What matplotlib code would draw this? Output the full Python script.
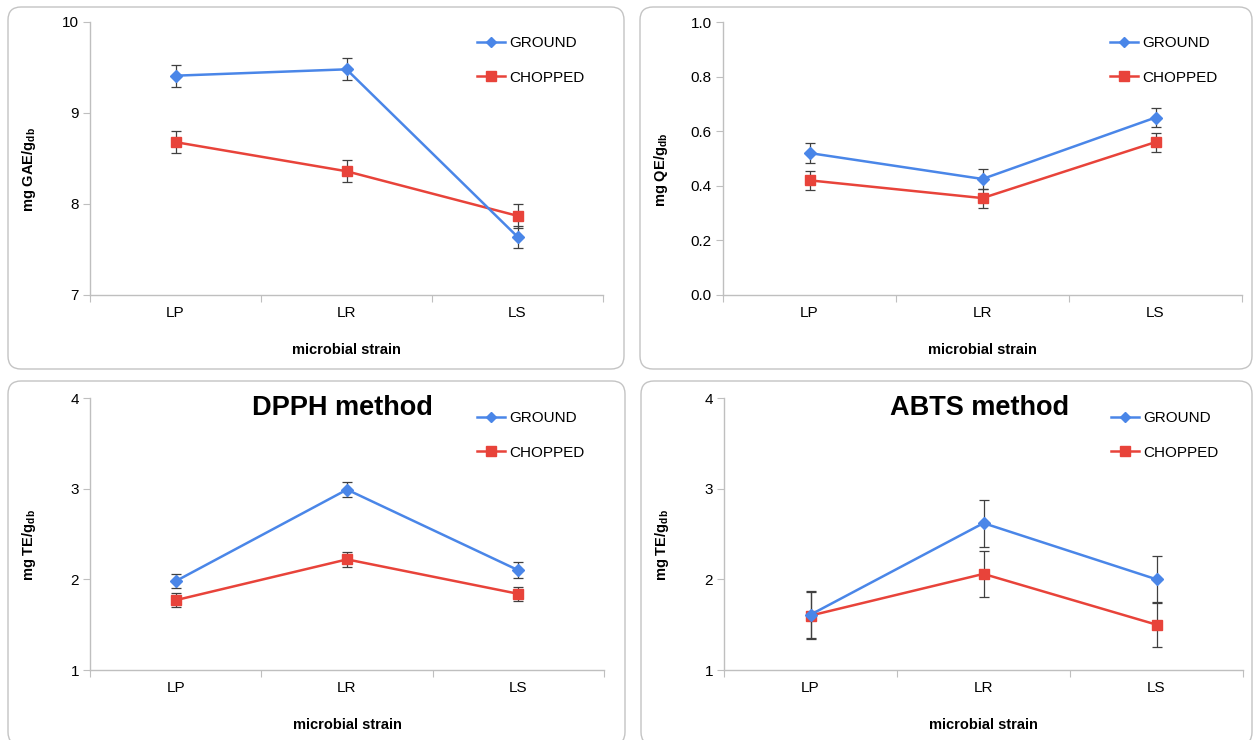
import numpy as np
import matplotlib
matplotlib.use("Agg")
import matplotlib.pyplot as plt
from matplotlib.patches import FancyBboxPatch
from matplotlib.lines import Line2D

plt.rcParams['font.family'] = ['Liberation Sans', 'DejaVu Sans']
plt.rcParams['mathtext.fontset'] = 'custom'
plt.rcParams['mathtext.rm'] = 'Liberation Sans'
plt.rcParams['mathtext.bf'] = 'Liberation Sans:bold'
plt.rcParams['mathtext.it'] = 'Liberation Sans:italic'

# Data
strains = ["LP", "LR", "LS"]
series = ["GROUND", "CHOPPED"]

gae_ground = [9.41, 9.48, 7.64]
gae_ground_err = [0.12, 0.12, 0.12]
gae_chopped = [8.68, 8.36, 7.87]
gae_chopped_err = [0.12, 0.12, 0.13]

qe_ground = [0.52, 0.425, 0.65]
qe_ground_err = [0.035, 0.035, 0.035]
qe_chopped = [0.42, 0.355, 0.56]
qe_chopped_err = [0.035, 0.035, 0.035]

dpph_ground = [1.98, 2.99, 2.10]
dpph_ground_err = [0.08, 0.08, 0.09]
dpph_chopped = [1.77, 2.22, 1.84]
dpph_chopped_err = [0.08, 0.08, 0.08]

abts_ground = [1.61, 2.62, 2.00]
abts_ground_err = [0.26, 0.26, 0.26]
abts_chopped = [1.60, 2.06, 1.50]
abts_chopped_err = [0.26, 0.25, 0.25]

BLUE = "#4a86e8"
RED = "#e8433a"
AXIS_GREY = "#bfbfbf"

W, H = 1254, 740
fig = plt.figure(figsize=(W / 100, H / 100), dpi=100)


def px_axes(l, t, r, b):
    a = fig.add_axes([l / W, 1 - b / H, (r - l) / W, (b - t) / H])
    a.set_facecolor("none")
    return a


def panel_box(l, t, r, b):
    # rounded frame, coords in pixels (converted to inches)
    box = FancyBboxPatch((l / 100, (H - b) / 100), (r - l) / 100, (b - t) / 100,
                         boxstyle="round,pad=0,rounding_size=0.13",
                         transform=fig.dpi_scale_trans, facecolor="white",
                         edgecolor="#c4c4c4", linewidth=1.0, zorder=-5)
    fig.patches.append(box)


panel_box(8, 7, 624, 369)
panel_box(640, 7, 1252, 369)
panel_box(8, 381, 625, 745)
panel_box(641, 381, 1252, 745)

panels = [
    dict(rect=(90, 22, 603, 295), g=gae_ground, ge=gae_ground_err, c=gae_chopped, ce=gae_chopped_err,
         ylim=(7, 10), yticks=[7, 8, 9, 10], fmt="{:.0f}", ylabel=r"$\mathbf{mg\ GAE/g_{db}}$",
         title=None, leg=(477, 36)),
    dict(rect=(723, 22, 1242, 295), g=qe_ground, ge=qe_ground_err, c=qe_chopped, ce=qe_chopped_err,
         ylim=(0, 1.0), yticks=[0, 0.2, 0.4, 0.6, 0.8, 1.0], fmt="{:.1f}", ylabel=r"$\mathbf{mg\ QE/g_{db}}$",
         title=None, leg=(1110, 36)),
    dict(rect=(90, 398, 604, 670), g=dpph_ground, ge=dpph_ground_err, c=dpph_chopped, ce=dpph_chopped_err,
         ylim=(1, 4), yticks=[1, 2, 3, 4], fmt="{:.0f}", ylabel=r"$\mathbf{mg\ TE/g_{db}}$",
         title="DPPH method", leg=(477, 411)),
    dict(rect=(724, 398, 1243, 670), g=abts_ground, ge=abts_ground_err, c=abts_chopped, ce=abts_chopped_err,
         ylim=(1, 4), yticks=[1, 2, 3, 4], fmt="{:.0f}", ylabel=r"$\mathbf{mg\ TE/g_{db}}$",
         title="ABTS method", leg=(1111, 411)),
]

x = np.arange(len(strains))

for p in panels:
    ax = px_axes(*p["rect"])
    ax.errorbar(x, p["g"], yerr=p["ge"], color=BLUE, marker="D", markersize=6, linewidth=1.8,
                ecolor="#404040", elinewidth=0.9, capsize=3.5, capthick=0.9, zorder=3)
    ax.errorbar(x, p["c"], yerr=p["ce"], color=RED, marker="s", markersize=7.5, linewidth=1.8,
                ecolor="#404040", elinewidth=0.9, capsize=3.5, capthick=0.9, zorder=2)

    ax.set_xlim(-0.5, 2.5)
    ax.set_ylim(*p["ylim"])
    ax.set_yticks(p["yticks"])
    ax.set_yticklabels([p["fmt"].format(v) for v in p["yticks"]])

    ax.set_xticks([-0.5, 0.5, 1.5, 2.5])
    ax.set_xticklabels([])
    ax.set_xticks(x, minor=True)
    ax.set_xticklabels(strains, minor=True)
    ax.tick_params(axis="x", which="minor", length=0, pad=8, labelsize=11)
    ax.tick_params(axis="x", which="major", length=5, color=AXIS_GREY, direction="out")
    ax.tick_params(axis="y", length=5, color=AXIS_GREY, direction="out", pad=3, labelsize=11)

    for s in ["top", "right"]:
        ax.spines[s].set_visible(False)
    for s in ["left", "bottom"]:
        ax.spines[s].set_color(AXIS_GREY)
        ax.spines[s].set_linewidth(1.0)

    ax.set_xlabel("microbial strain", fontsize=10.5, fontweight="bold")
    ax.xaxis.set_label_coords(0.5, -0.175)
    ax.set_ylabel(p["ylabel"], fontsize=10.5)
    ax.yaxis.set_label_coords(-0.102, 0.46)

    if p["title"]:
        ax.text(0.492, 0.962, p["title"], transform=ax.transAxes, ha="center", va="center",
                fontsize=19.5, fontweight="bold")

    handles = [Line2D([], [], color=BLUE, marker="D", markersize=5, linewidth=1.8),
               Line2D([], [], color=RED, marker="s", markersize=6.5, linewidth=1.8)]
    lx, ly = p["leg"]
    ax.legend(handles, series, loc="upper left", bbox_to_anchor=(lx / W, 1 - ly / H),
              bbox_transform=fig.transFigure, frameon=False, fontsize=11, borderpad=0,
              borderaxespad=0, handlelength=1.8, handletextpad=0.3, labelspacing=1.35)

fig.savefig("out.png", dpi=100)
